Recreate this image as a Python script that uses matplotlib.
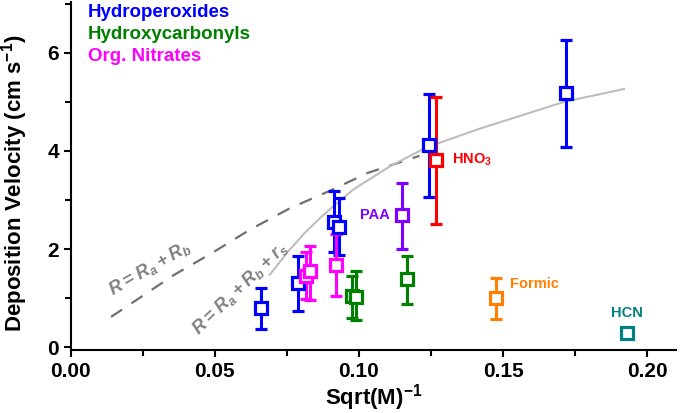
import numpy as np
import matplotlib
matplotlib.use("Agg")
import matplotlib.pyplot as plt
from matplotlib.ticker import MultipleLocator, FormatStrFormatter

plt.rcParams['font.family'] = ['Liberation Sans', 'DejaVu Sans']
plt.rcParams['font.weight'] = 'bold'
plt.rcParams['axes.labelweight'] = 'bold'
plt.rcParams['mathtext.default'] = 'regular'

# measured points: x, y, lower end of bar, upper end of bar
hydroperox_x = [0.066, 0.0787, 0.0915, 0.0930, 0.1244, 0.1719]
hydroperox_y = [0.80, 1.31, 2.56, 2.45, 4.12, 5.17]
hydroperox_lo = [0.38, 0.75, 1.95, 1.88, 3.07, 4.07]
hydroperox_hi = [1.21, 1.86, 3.18, 3.05, 5.15, 6.25]

hydroxycarb_x = [0.0975, 0.0990, 0.1167]
hydroxycarb_y = [1.05, 1.02, 1.39]
hydroxycarb_lo = [0.60, 0.56, 0.88]
hydroxycarb_hi = [1.45, 1.55, 1.86]

nitrates_x = [0.0818, 0.0830, 0.0920]
nitrates_y = [1.45, 1.55, 1.68]
nitrates_lo = [0.98, 0.96, 1.04]
nitrates_hi = [1.95, 2.07, 2.30]

# single compounds: x, y, lo, hi
hno3 = (0.1267, 3.81, 2.51, 5.10)
paa = (0.1149, 2.70, 2.00, 3.35)
formic = (0.1476, 1.00, 0.58, 1.41)
hcn = (0.193, 0.29)

# model curves
dashed_x = [0.014, 0.036, 0.049, 0.062, 0.076, 0.090, 0.103, 0.119, 0.121]
dashed_y = [0.62, 1.48, 1.92, 2.39, 2.83, 3.19, 3.55, 3.86, 3.90]
solid_x = [0.0691, 0.0754, 0.0812, 0.0870, 0.0922, 0.0982, 0.1106, 0.1234, 0.1418, 0.1713, 0.192]
solid_y = [1.48, 1.95, 2.33, 2.66, 2.93, 3.22, 3.68, 4.07, 4.45, 5.00, 5.26]

BLUE = '#0000ff'
GREEN = '#008000'
MAGENTA = '#ff00ff'
RED = '#ff0000'
PURPLE = '#8000ff'
ORANGE = '#ff8000'
TEAL = '#008080'

fig = plt.figure(figsize=(6.8, 4.13), dpi=100)
ax = fig.add_axes([0.104, 0.153, 0.890, 0.842])

ax.plot(dashed_x, dashed_y, color='#707070', lw=1.6, dashes=(6, 5))
ax.plot(solid_x, solid_y, color='#bdbdbd', lw=1.5)


def errpts(x, y, lo, hi, color):
    y = np.asarray(y)
    yerr = [y - np.asarray(lo), np.asarray(hi) - y]
    ax.errorbar(x, y, yerr=yerr, fmt='s', color=color, mfc='white', mec=color,
                ms=9, mew=2.3, elinewidth=2.2, capsize=4, capthick=2.2)


errpts(hydroperox_x, hydroperox_y, hydroperox_lo, hydroperox_hi, BLUE)
errpts(hydroxycarb_x, hydroxycarb_y, hydroxycarb_lo, hydroxycarb_hi, GREEN)
errpts(nitrates_x, nitrates_y, nitrates_lo, nitrates_hi, MAGENTA)
errpts([hno3[0]], [hno3[1]], [hno3[2]], [hno3[3]], RED)
errpts([paa[0]], [paa[1]], [paa[2]], [paa[3]], PURPLE)
errpts([formic[0]], [formic[1]], [formic[2]], [formic[3]], ORANGE)
ax.plot([hcn[0]], [hcn[1]], 's', color=TEAL, mfc='white', mec=TEAL, ms=9, mew=2.3)

# labels next to the single compounds
ax.text(hno3[0] + 0.0055, hno3[1], 'HNO$_3$', color=RED, fontsize=10.5, va='center')
ax.text(paa[0] - 0.004, paa[1], 'PAA', color=PURPLE, fontsize=10.5, va='center', ha='right')
ax.text(formic[0] + 0.005, formic[1] + 0.28, 'Formic', color=ORANGE, fontsize=10.5, va='center')
ax.text(hcn[0], hcn[1] + 0.4, 'HCN', color=TEAL, fontsize=10.5, va='center', ha='center')

ax.text(0.0275, 1.62, '$R = R_a + R_b$', color='#808080', fontsize=13, style='italic',
        rotation=30, ha='center', va='center', rotation_mode='anchor')
ax.text(0.0587, 1.19, '$R = R_a + R_b + r_s$', color='#808080', fontsize=13, style='italic',
        rotation=44, ha='center', va='center', rotation_mode='anchor')

# legend as coloured text
ax.text(0.006, 7.0, 'Hydroperoxides', color=BLUE, fontsize=13.5, va='top')
ax.text(0.006, 6.55, 'Hydroxycarbonyls', color=GREEN, fontsize=13.5, va='top')
ax.text(0.006, 6.10, 'Org. Nitrates', color=MAGENTA, fontsize=13.5, va='top')

ax.set_xlim(0, 0.21)
ax.set_ylim(-0.05, 7.03)
ax.xaxis.set_major_locator(MultipleLocator(0.05))
ax.xaxis.set_minor_locator(MultipleLocator(0.025))
ax.yaxis.set_major_locator(MultipleLocator(2))
ax.yaxis.set_minor_locator(MultipleLocator(1))
ax.xaxis.set_major_formatter(FormatStrFormatter('%.2f'))

for s in ['top', 'right']:
    ax.spines[s].set_visible(False)
for s in ['left', 'bottom']:
    ax.spines[s].set_linewidth(1.5)
ax.tick_params(which='major', length=5, width=1.5, labelsize=15, direction='out')
ax.tick_params(which='minor', length=4, width=1.5, direction='out')

ax.set_xlabel('Sqrt(M)$^{-1}$', fontsize=16, labelpad=1)
ax.set_ylabel('Deposition Velocity (cm s$^{-1}$)', fontsize=16)
ax.yaxis.set_label_coords(-0.067, 0.48)

fig.savefig('out.png', dpi=100)
